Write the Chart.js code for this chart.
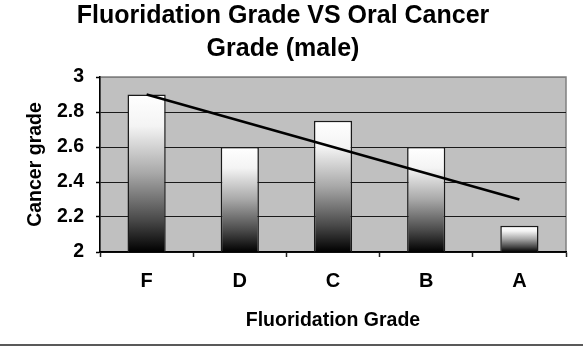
<!DOCTYPE html>
<html>
<head>
<meta charset="utf-8">
<script src="https://cdn.jsdelivr.net/npm/chart.js@4"></script>
<style>
  html, body { margin: 0; padding: 0; background: #fff; }
  #c { display: block; }
</style>
</head>
<body>
<canvas id="c" width="583" height="346"></canvas>
<script>
// Oral cancer grade (male) by fluoridation grade
const categories = ['F', 'D', 'C', 'B', 'A'];
const cancerGrade = [2.9, 2.6, 2.75, 2.6, 2.15];
// linear trend line, end points only (gaps spanned)
const trendLine = [2.9, null, null, null, 2.3];
const yTickValues = [2, 2.2, 2.4, 2.6, 2.8, 3];
const titleLines = ['Fluoridation Grade VS Oral Cancer', 'Grade (male)'];
const xAxisTitle = 'Fluoridation Grade';
const yAxisTitle = 'Cancer grade';

const FONT = '"Liberation Sans", Arial, Helvetica, sans-serif';

// grey plot area with a thin grey frame
const plotBackground = {
  id: 'plotBackground',
  beforeDraw(chart) {
    const { ctx, chartArea: a } = chart;
    ctx.save();
    ctx.fillStyle = '#c0c0c0';
    ctx.fillRect(a.left, a.top, a.right - a.left, a.bottom - a.top);
    ctx.strokeStyle = '#808080';
    ctx.lineWidth = 1.5;
    ctx.strokeRect(a.left, a.top, a.right - a.left, a.bottom - a.top);
    ctx.restore();
  }
};

// rule along the bottom edge of the figure
const bottomRule = {
  id: 'bottomRule',
  afterDraw(chart) {
    const { ctx } = chart;
    ctx.save();
    ctx.strokeStyle = '#222';
    ctx.lineWidth = 1.5;
    ctx.beginPath();
    ctx.moveTo(0, chart.height - 1);
    ctx.lineTo(chart.width, chart.height - 1);
    ctx.stroke();
    ctx.restore();
  }
};

// white-to-black fill running from each bar's top down to the axis
function barGradient(context) {
  const chart = context.chart;
  if (!chart.chartArea) return '#888';
  const y = chart.scales.y;
  const top = y.getPixelForValue(cancerGrade[context.dataIndex]);
  const base = y.getPixelForValue(y.min);
  const g = chart.ctx.createLinearGradient(0, top, 0, base);
  g.addColorStop(0, '#ffffff');
  g.addColorStop(0.2, '#f4f4f4');
  g.addColorStop(0.5, '#a8a8a8');
  g.addColorStop(0.8, '#484848');
  g.addColorStop(1, '#000000');
  return g;
}

new Chart(document.getElementById('c'), {
  data: {
    labels: categories,
    datasets: [
      {
        type: 'line',
        data: trendLine,
        borderColor: '#000',
        borderWidth: 2.5,
        pointRadius: 0,
        spanGaps: true,
        order: 0
      },
      {
        type: 'bar',
        data: cancerGrade,
        backgroundColor: barGradient,
        borderColor: '#1a1a1a',
        borderWidth: 1.5,
        borderSkipped: false,
        categoryPercentage: 1,
        barPercentage: 0.41,
        order: 1
      }
    ]
  },
  options: {
    responsive: false,
    animation: false,
    devicePixelRatio: 1,
    layout: { padding: { left: 0, right: 17, top: 0, bottom: 0 } },
    plugins: {
      legend: { display: false },
      tooltip: { enabled: false },
      title: {
        display: true,
        text: titleLines,
        color: '#000',
        font: { family: FONT, size: 25, weight: 'bold', lineHeight: 1.32 },
        padding: { top: 0, bottom: 11 }
      }
    },
    scales: {
      x: {
        grid: {
          offset: true,
          drawOnChartArea: false,
          drawTicks: true,
          tickLength: 5,
          tickColor: '#222',
          tickWidth: 1.5
        },
        border: { color: '#000', width: 1.5 },
        ticks: {
          color: '#000',
          padding: 12,
          font: { family: FONT, size: 20, weight: 'bold' }
        },
        title: {
          display: true,
          text: xAxisTitle,
          color: '#000',
          font: { family: FONT, size: 19.5, weight: 'bold' },
          padding: { top: 0, bottom: 14 }
        },
        afterFit(scale) { scale.height = 94; }
      },
      y: {
        min: 2,
        max: 3,
        afterBuildTicks(scale) {
          scale.ticks = yTickValues.map(v => ({ value: v }));
        },
        grid: {
          color: ctx => (ctx.tick && ctx.tick.value === 3 ? '#808080' : '#1a1a1a'),
          lineWidth: 1,
          tickLength: 4,
          tickColor: '#000',
          tickWidth: 1.5
        },
        border: { color: '#000', width: 1.5 },
        ticks: {
          color: '#000',
          padding: 12,
          font: { family: FONT, size: 19.5, weight: 'bold' },
          callback: v => String(Number(v.toFixed(1)))
        },
        title: {
          display: true,
          text: yAxisTitle,
          color: '#000',
          font: { family: FONT, size: 19.5, weight: 'bold' },
          padding: { top: 24, bottom: 0 }
        },
        afterFit(scale) { scale.width = 100; }
      }
    }
  },
  plugins: [plotBackground, bottomRule]
});
</script>
</body>
</html>
